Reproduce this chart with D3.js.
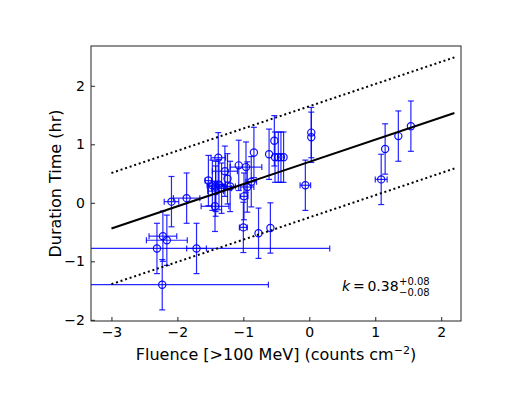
<!DOCTYPE html>
<html>
<head>
<meta charset="utf-8">
<script src="https://cdn.jsdelivr.net/npm/d3@7"></script>
<style>
  body { margin: 0; background: #fff; }
  text { font-family: "DejaVu Sans", sans-serif; fill: #000; }
</style>
</head>
<body>
<svg id="chart" width="513" height="397"></svg>
<script>
// log fluence, log duration and their errors
const fluence = [1.54, 1.35, 1.15, 1.09, 0.03, 0.03, -0.06, -0.53, -0.61, -0.52,
  -0.47, -0.43, -0.39, -0.84, -0.96, -1.07, -1.28, -1.24, -1.20, -1.38,
  -1.53, -1.47, -1.42, -1.37, -1.33, -1.42, -1.43, -0.99, -0.94, -0.88,
  -1.00, -0.77, -0.59, -1.86, -2.09, -2.22, -2.16, -2.31, -1.71, -2.23]
const duration = [1.31, 1.14, 0.92, 0.40, 1.20, 1.12, 0.30, 1.06, 0.83, 0.78,
  0.78, 0.78, 0.78, 0.86, 0.61, 0.64, 0.54, 0.41, 0.28, 0.77,
  0.38, 0.30, 0.28, 0.31, 0.25, 0.20, -0.06, 0.11, 0.27, 0.36,
  -0.42, -0.52, -0.43, 0.08, 0.02, -0.57, -0.64, -0.78, -0.78, -1.40]
const fluenceErr = [0, 0, 0, 0.09, 0, 0, 0.08, 0, 0, 0,
  0, 0, 0, 0, 0.24, 0, 0.19, 0, 0.08, 0.11,
  0.05, 0.08, 0.12, 0.10, 0.15, 0.12, 0.21, 0.06, 0.10, 0.08,
  0.06, 0, 0, 0.20, 0.11, 0.21, 0.31, 2.62, 0.15, 1.61]
const durationErr = [0.43, 0.43, 0.43, 0.43, 0.43, 0.43, 0.43, 0.43, 0.43, 0.43,
  0.43, 0.43, 0.43, 0.43, 0.43, 0.43, 0.43, 0.43, 0.43, 0.43,
  0.43, 0.43, 0.43, 0.43, 0.43, 0.43, 0.43, 0.40, 0.43, 0.43,
  0.43, 0.43, 0.43, 0.43, 0.43, 0.43, 0.43, 0.43, 0.43, 0.43]

// best fit and scatter band
const fitSlope = 0.38
const fitIntercept = 0.70
const fitScatter = 0.95
const fitRange = [-3, 2.2]

const xTicks = [-3, -2, -1, 0, 1, 2]
const yTicks = [-2, -1, 0, 1, 2]

const margin = { top: 46, right: 52, bottom: 76, left: 91 }
const width = 513, height = 397

const svg = d3.select("#chart")

const x = d3.scaleLinear().domain([-3.31, 2.30]).range([margin.left, width - margin.right])
const y = d3.scaleLinear().domain([-2.02, 2.68]).range([height - margin.bottom, margin.top])

const points = fluence.map((f, i) => ({ x: f, y: duration[i], xe: fluenceErr[i], ye: durationErr[i] }))

svg.append("defs").append("clipPath").attr("id", "clip")
  .append("rect")
  .attr("x", margin.left).attr("y", margin.top)
  .attr("width", x.range()[1] - margin.left)
  .attr("height", y.range()[0] - margin.top)

const plot = svg.append("g").attr("clip-path", "url(#clip)")

// error bars
const cap = 3
const bars = plot.append("g")
  .attr("stroke", "#0000ff")
  .attr("stroke-opacity", 0.85)
  .attr("stroke-width", 1.2)
  .attr("fill", "none")

points.forEach(d => {
  const g = bars.append("g")
  g.append("line")
    .attr("x1", x(d.x)).attr("x2", x(d.x))
    .attr("y1", y(d.y - d.ye)).attr("y2", y(d.y + d.ye))
  g.selectAll(".ycap").data([d.y - d.ye, d.y + d.ye]).join("line")
    .attr("x1", x(d.x) - cap).attr("x2", x(d.x) + cap)
    .attr("y1", v => y(v)).attr("y2", v => y(v))
  if (d.xe > 0) {
    g.append("line")
      .attr("x1", x(d.x - d.xe)).attr("x2", x(d.x + d.xe))
      .attr("y1", y(d.y)).attr("y2", y(d.y))
    g.selectAll(".xcap").data([d.x - d.xe, d.x + d.xe]).join("line")
      .attr("x1", v => x(v)).attr("x2", v => x(v))
      .attr("y1", y(d.y) - cap).attr("y2", y(d.y) + cap)
  }
})

// open circle markers
plot.append("g")
  .selectAll("circle")
  .data(points)
  .join("circle")
  .attr("cx", d => x(d.x))
  .attr("cy", d => y(d.y))
  .attr("r", 3.6)
  .attr("fill", "none")
  .attr("stroke", "#0000ff")
  .attr("stroke-opacity", 0.95)
  .attr("stroke-width", 1.2)

// fit line and dotted band
const fitLine = d3.line().x(d => x(d[0])).y(d => y(d[1]))
const fitAt = (v, off) => [v, fitSlope * v + fitIntercept + off]

plot.append("path")
  .attr("d", fitLine(fitRange.map(v => fitAt(v, 0))))
  .attr("stroke", "#000").attr("stroke-width", 2).attr("fill", "none")

;[fitScatter, -fitScatter].forEach(off => {
  plot.append("path")
    .attr("d", fitLine(fitRange.map(v => fitAt(v, off))))
    .attr("stroke", "#000").attr("stroke-width", 2)
    .attr("stroke-dasharray", "2,2.8")
    .attr("fill", "none")
})

// axes, ticks pointing in
const fmt = d3.format("d")
const xAxis = d3.axisBottom(x).tickValues(xTicks).tickFormat(fmt).tickSizeInner(-4).tickSizeOuter(0).tickPadding(6)
const yAxis = d3.axisLeft(y).tickValues(yTicks).tickFormat(fmt).tickSizeInner(-4).tickSizeOuter(0).tickPadding(6)

svg.append("g")
  .attr("transform", `translate(0 ${y.range()[0]})`)
  .call(xAxis)
  .call(g => g.selectAll("text").style("font-size", "14px").attr("fill", "#000"))

svg.append("g")
  .attr("transform", `translate(${margin.left} 0)`)
  .call(yAxis)
  .call(g => g.selectAll("text").style("font-size", "14px").attr("fill", "#000"))

// frame
svg.append("rect")
  .attr("x", margin.left).attr("y", margin.top)
  .attr("width", x.range()[1] - margin.left)
  .attr("height", y.range()[0] - margin.top)
  .attr("fill", "none").attr("stroke", "#222").attr("stroke-width", 1)

svg.selectAll(".domain").remove()
svg.selectAll(".tick line").attr("stroke", "#222")

// axis labels
const xl = svg.append("text")
  .attr("x", (margin.left + x.range()[1]) / 2)
  .attr("y", 360)
  .attr("text-anchor", "middle")
  .style("font-size", "16px")
xl.append("tspan").text("Fluence [>100 MeV] (counts cm")
xl.append("tspan").text("−2").attr("dy", -6).style("font-size", "11px")
xl.append("tspan").text(")").attr("dy", 6)

svg.append("text")
  .attr("transform", `translate(61 ${(margin.top + y.range()[0]) / 2}) rotate(-90)`)
  .attr("text-anchor", "middle")
  .style("font-size", "16px")
  .text("Duration Time (hr)")

// slope annotation
const ann = svg.append("g").attr("transform", "translate(342 291)")
const k = ann.append("text").style("font-size", "14px")
k.append("tspan").text("k").style("font-style", "italic")
k.append("tspan").text("\u2009=\u20090.38")
ann.append("text").attr("x", 57).attr("y", -6).style("font-size", "10px").text("+0.08")
ann.append("text").attr("x", 57).attr("y", 5).style("font-size", "10px").text("−0.08")
</script>
</body>
</html>
